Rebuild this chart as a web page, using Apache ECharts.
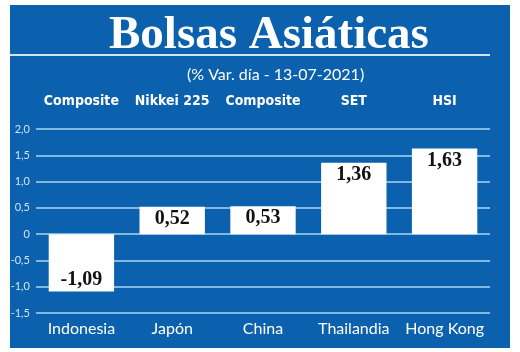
<!DOCTYPE html>
<html>
<head>
<meta charset="utf-8">
<script src="https://cdn.jsdelivr.net/npm/echarts@6/dist/echarts.min.js"></script>
<style>
html,body{margin:0;padding:0;background:#fff;}
#c{width:520px;height:352px;}
</style>
</head>
<body>
<div id="c"></div>
<script>
var countries = ["Indonesia", "Japón", "China", "Thailandia", "Hong Kong"];
var indices = ["Composite", "Nikkei 225", "Composite", "SET", "HSI"];
var values = [-1.09, 0.52, 0.53, 1.36, 1.63];
var titleText = "Bolsas Asiáticas";
var subtitleText = "(% Var. día - 13-07-2021)";

var BLUE = "#0b61ad";
var GRID = "#a9d6f3";
var chart = echarts.init(document.getElementById('c'), null, {renderer: 'canvas'});

function fmt(v) {
  return (v === 0) ? "0" : v.toFixed(1).replace('.', ',');
}
function fmt2(v) {
  return v.toFixed(2).replace('.', ',');
}

var option = {
  animation: false,
  backgroundColor: '#ffffff',
  graphic: [
    {type: 'rect', z: -10, shape: {x: 10, y: 5, width: 500, height: 343}, style: {fill: BLUE}},
    {type: 'line', z: -5, shape: {x1: 10, y1: 55, x2: 490, y2: 55}, style: {stroke: '#cfe6f7', lineWidth: 2}}
  ],
  title: [
    {text: titleText, left: 104, top: 7,
     textStyle: {color: '#fff', fontFamily: "'Liberation Serif', serif", fontWeight: 'bold', fontSize: 47}},
    {text: subtitleText, left: 182, top: 62,
     textStyle: {color: '#fff', fontFamily: "Lato, 'Open Sans', sans-serif", fontWeight: 'normal', fontSize: 16}}
  ],
  grid: {left: 36, right: 30, top: 129, bottom: 39, containLabel: false},
  xAxis: [
    {type: 'category', data: countries, position: 'bottom',
     axisLine: {show: false}, axisTick: {show: false},
     axisLabel: {interval: 0, color: '#fff', fontFamily: "Lato, 'Open Sans', sans-serif", fontSize: 16, margin: 8}},
    {type: 'category', data: indices, position: 'top',
     axisLine: {show: false}, axisTick: {show: false},
     axisLabel: {interval: 0, color: '#fff', fontFamily: "'DejaVu Sans Condensed', 'Liberation Sans Narrow', sans-serif", fontWeight: 'bold', fontSize: 14, margin: 21}}
  ],
  yAxis: {
    type: 'value', min: -1.5, max: 2, interval: 0.5,
    axisLine: {show: false}, axisTick: {show: false},
    axisLabel: {color: '#cfe6f7', fontFamily: "Lato, 'Open Sans', sans-serif", fontSize: 11, margin: 6, formatter: fmt},
    splitLine: {show: true, lineStyle: {color: GRID, width: 1.5}}
  },
  series: [{
    type: 'bar',
    xAxisIndex: 0,
    data: values.map(function (v) {
      return {value: v, label: {position: v < 0 ? 'insideBottom' : 'insideTop'}};
    }),
    barCategoryGap: '28%',
    itemStyle: {color: '#ffffff'},
    label: {show: true, distance: 2, color: '#111', fontFamily: "'Liberation Serif', serif", fontWeight: 'bold', fontSize: 20,
            formatter: function (p) { return fmt2(p.value); }}
  }]
};
chart.setOption(option);
</script>
</body>
</html>
